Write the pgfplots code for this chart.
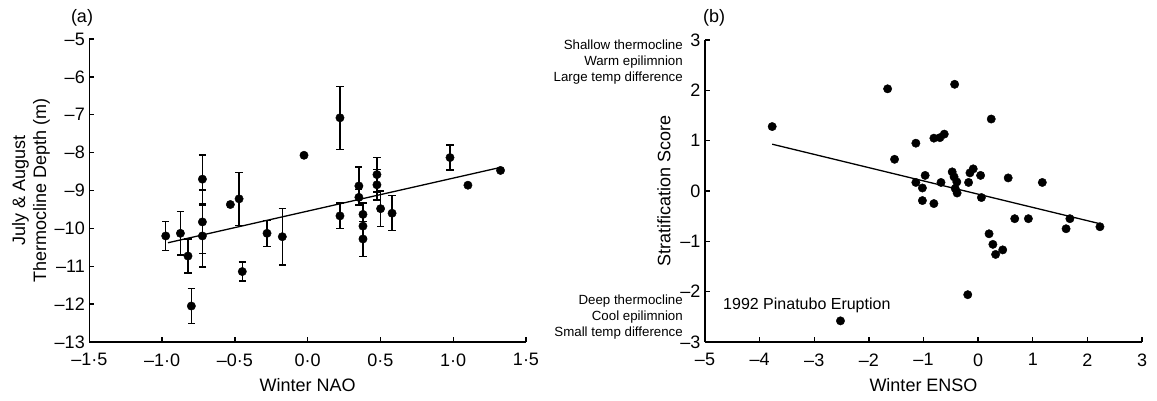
\documentclass[border=0pt]{standalone}
\usepackage{fontspec}
\setmainfont{Liberation Sans}
\usepackage{pgfplots}
\pgfplotsset{compat=1.18}
\begin{document}
\begin{tikzpicture}[font=\fontsize{18}{21}\selectfont]
\useasboundingbox (0pt,0pt) rectangle (1157pt,400pt);
\pgfplotsset{
 myax/.style={
  scale only axis, axis lines=left, axis line style={-, line width=1.3pt},
  tick align=inside, major tick length=5pt, major tick style={line width=1.3pt, black},
  tick label style={font=\fontsize{18}{21}\selectfont},
  xticklabel style={yshift=-8pt},
  yticklabel style={xshift=-1pt},
  label style={font=\fontsize{18}{21}\selectfont},
  xlabel style={yshift=-5pt},
  clip=false,
 },
 dots/.style={only marks, mark=*, mark size=4.2pt, black, mark options={fill=black}},
}
% ---------------- panel (a)
\begin{axis}[myax, at={(89.3pt,58pt)}, anchor=south west, width=436.7pt, height=303pt,
  xmin=-1.5, xmax=1.5, ymin=-13, ymax=-5,
  xtick={-1.5,-1,-0.5,0,0.5,1,1.5},
  xticklabels={–1·5,–1·0,–0·5,0·0,0·5,1·0,1·5},
  ytick={-13,-12,-11,-10,-9,-8,-7,-6,-5},
  yticklabels={–13,–12,–11,–10,–9,–8,–7,–6,–5},
  xlabel={Winter NAO},
  ylabel={July \& August\\Thermocline Depth (m)}, ylabel style={align=center, yshift=-2pt},
]
\addplot[black, line width=1.3pt] coordinates {(-0.96,-10.38) (1.325,-8.39)};
\addplot[dots, error bars/.cd, y dir=both, y explicit, error mark=-,
  error bar style={line width=1.3pt, black}, error mark options={rotate=90, mark size=3.6pt, line width=1.3pt, black}]
 coordinates {
 (-0.975,-10.20) +- (0,0.39)
 (-0.874,-10.13) +- (0,0.57)
 (-0.822,-10.73) +- (0,0.45)
 (-0.799,-12.05) +- (0,0.47)
 (-0.723,-8.70) +- (0,0.64)
 (-0.723,-9.83) +- (0,0.84)
 (-0.723,-10.20) +- (0,0.82)
 (-0.471,-9.22) +- (0,0.70)
 (-0.449,-11.14) +- (0,0.25)
 (-0.279,-10.13) +- (0,0.34)
 (-0.174,-10.22) +- (0,0.75)
 (0.222,-7.08) +- (0,0.83)
 (0.222,-9.67) +- (0,0.34)
 (0.352,-8.88) +- (0,0.50)
 (0.352,-9.18) +- (0,0.20)
 (0.380,-9.63) +- (0,0.30)
 (0.380,-9.94) +- (0,0.30)
 (0.380,-10.28) +- (0,0.47)
 (0.476,-8.58) +- (0,0.46)
 (0.476,-8.85) +- (0,0.40)
 (0.501,-9.48) +- (0,0.47)
 (0.580,-9.60) +- (0,0.46)
 (0.978,-8.13) +- (0,0.33)
 };
\addplot[dots] coordinates {(-0.531,-9.37) (-0.025,-8.07) (1.101,-8.86) (1.325,-8.47)};
\end{axis}
% ---------------- panel (b)
\begin{axis}[myax, at={(705pt,58pt)}, anchor=south west, width=437pt, height=302pt,
  xmin=-5, xmax=3, ymin=-3, ymax=3,
  xtick={-5,-4,-3,-2,-1,0,1,2,3},
  xticklabels={–5,–4,–3,–2,–1,0,1,2,3},
  ytick={-3,-2,-1,0,1,2,3},
  yticklabels={–3,–2,–1,0,1,2,3},
  xlabel={Winter ENSO},
  ylabel={Stratification Score}, ylabel style={yshift=3pt},
]
\addplot[black, line width=1.3pt] coordinates {(-3.77,0.93) (2.23,-0.65)};
\addplot[dots] coordinates {
 (-3.77,1.28) (-2.52,-2.58) (-1.657,2.03) (-1.53,0.63) (-1.14,0.95)
 (-0.81,1.05) (-0.70,1.06) (-0.62,1.13) (-0.43,2.12) (0.24,1.43)
 (-0.97,0.31) (-1.14,0.17) (-1.02,0.06) (-1.02,-0.19) (-0.81,-0.25)
 (-0.68,0.17) (-0.475,0.38) (-0.44,0.28) (-0.39,0.18) (-0.42,0.05)
 (-0.385,-0.04) (-0.175,0.17) (-0.15,0.36) (-0.09,0.44) (0.045,0.31)
 (0.06,-0.13) (0.55,0.26) (1.175,0.17) (0.67,-0.55) (0.92,-0.55)
 (1.68,-0.55) (1.61,-0.75) (2.23,-0.71) (0.2,-0.85) (0.27,-1.06)
 (0.32,-1.26) (0.45,-1.17) (-0.19,-2.06)
};
\node[anchor=west, inner sep=0pt, font=\fontsize{16}{19}\selectfont] at (axis cs:-4.67,-2.27) {1992 Pinatubo Eruption};
\end{axis}
\node[font=\fontsize{18}{21}\selectfont] at (82pt,382pt) {(a)};
\node[font=\fontsize{18}{21}\selectfont] at (714pt,382pt) {(b)};
\node[anchor=east, align=right, inner sep=0pt, font=\fontsize{13.3}{16}\selectfont] at (683pt,338pt) {Shallow thermocline\\Warm epilimnion\\Large temp difference};
\node[anchor=east, align=right, inner sep=0pt, font=\fontsize{13.3}{16}\selectfont] at (683pt,83pt) {Deep thermocline\\Cool epilimnion\\Small temp difference};
\end{tikzpicture}
\end{document}
